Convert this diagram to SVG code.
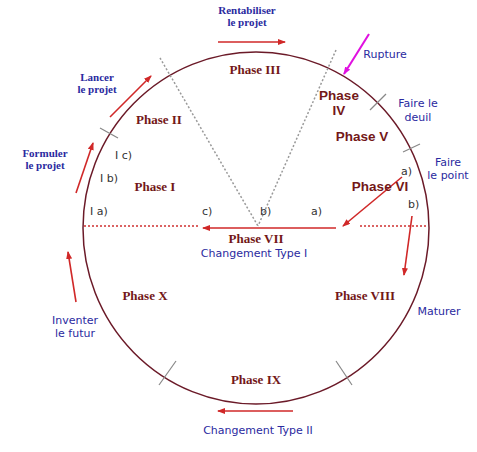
<svg xmlns="http://www.w3.org/2000/svg" width="477" height="452" viewBox="0 0 477 452">
<style>
.ph{font-family:"Liberation Serif",serif;font-weight:bold;font-size:13px;fill:#731818;text-anchor:middle}
.phs{font-family:"Liberation Sans",sans-serif;font-weight:bold;font-size:13.5px;fill:#731818;text-anchor:middle}
.bl{font-family:"DejaVu Sans","Liberation Sans",sans-serif;font-size:11px;fill:#2a2aa0;text-anchor:middle}
.bs{font-family:"Liberation Serif",serif;font-weight:bold;font-size:11px;fill:#2a2aa0;text-anchor:middle}
.lb{font-family:"DejaVu Sans","Liberation Sans",sans-serif;font-size:11px;fill:#333}
.ra{stroke:#d02828;stroke-width:1.6;fill:none;marker-end:url(#ah)}
.tk{stroke:#888;stroke-width:1.2}
.dot{stroke:#999;stroke-width:1.5;stroke-dasharray:2 2;fill:none}
.rdot{stroke:#d03030;stroke-width:1.3;stroke-dasharray:2 2;fill:none}
</style>
<defs>
<marker id="ah" markerWidth="8" markerHeight="6" refX="7" refY="3" orient="auto" markerUnits="userSpaceOnUse">
<path d="M0,0 L8,3 L0,6 z" fill="#d02828"/>
</marker>
<marker id="mh" markerWidth="8" markerHeight="6" refX="7" refY="3" orient="auto" markerUnits="userSpaceOnUse">
<path d="M0,0 L8,3 L0,6 z" fill="#e010e0"/>
</marker>
</defs>
<rect width="477" height="452" fill="#fff"/>
<g id="cycle">
<ellipse cx="256" cy="228" rx="173" ry="176" fill="none" stroke="#6b1a28" stroke-width="1.5"/>
</g>
<g id="connectors">
<line class="dot" x1="160" y1="58" x2="258" y2="226"/>
<line class="dot" x1="336" y1="50" x2="258" y2="226"/>
<line class="rdot" x1="84" y1="226" x2="200" y2="226"/>
<line class="rdot" x1="360" y1="226" x2="428" y2="226"/>
<line class="ra" x1="336" y1="228" x2="203" y2="228"/>
<line class="ra" x1="402" y1="177" x2="343" y2="226"/>
<line class="ra" x1="412" y1="216" x2="404" y2="275"/>
<line class="tk" x1="100" y1="128" x2="118" y2="138"/>
<line class="tk" x1="370" y1="110" x2="386" y2="94"/>
<line class="tk" x1="403" y1="152" x2="420" y2="144"/>
<line class="tk" x1="159" y1="385" x2="176" y2="361"/>
<line class="tk" x1="336" y1="361" x2="352" y2="385"/>
<line x1="369" y1="34" x2="344" y2="74" stroke="#e010e0" stroke-width="2" marker-end="url(#mh)"/>
<line class="ra" x1="218" y1="42" x2="285" y2="42"/>
<line class="ra" x1="110" y1="117" x2="151" y2="76"/>
<line class="ra" x1="76" y1="193" x2="93" y2="143"/>
<line class="ra" x1="76" y1="302" x2="68" y2="252"/>
<line class="ra" x1="293" y1="411" x2="218" y2="411"/>
</g>
<g id="phase1">
<text class="ph" x="155" y="191">Phase I</text>
<text class="lb" x="90" y="215">I a)</text>
<text class="lb" x="100" y="182">I b)</text>
<text class="lb" x="115" y="159">I c)</text>
</g>
<g id="phase2"><text class="ph" x="159" y="124">Phase II</text></g>
<g id="phase3"><text class="ph" x="255" y="74">Phase III</text></g>
<g id="phase4"><text class="phs" x="339" y="100">Phase</text><text class="phs" x="339" y="115">IV</text></g>
<g id="phase5"><text class="phs" x="362" y="141">Phase V</text></g>
<g id="phase6"><text class="phs" x="380" y="191">Phase VI</text>
<text class="lb" x="401" y="175">a)</text>
<text class="lb" x="408" y="208">b)</text></g>
<g id="phase7"><text class="ph" x="256" y="243">Phase VII</text>
<text class="bl" x="254" y="257">Changement Type I</text>
<text class="lb" x="202" y="215">c)</text>
<text class="lb" x="260" y="215">b)</text>
<text class="lb" x="311" y="215">a)</text></g>
<g id="phase8"><text class="ph" x="365" y="300">Phase VIII</text></g>
<g id="phase9"><text class="ph" x="256" y="384">Phase IX</text></g>
<g id="phase10"><text class="ph" x="145" y="300">Phase X</text></g>
<g id="labels">
<text class="bs" x="247" y="14">Rentabiliser</text>
<text class="bs" x="247" y="26">le projet</text>
<text class="bs" x="97" y="81">Lancer</text>
<text class="bs" x="97" y="93">le projet</text>
<text class="bs" x="45" y="157">Formuler</text>
<text class="bs" x="45" y="169">le projet</text>
<text class="bl" x="385" y="58">Rupture</text>
<text class="bl" x="418" y="107">Faire le</text>
<text class="bl" x="418" y="121">deuil</text>
<text class="bl" x="448" y="166">Faire</text>
<text class="bl" x="448" y="179">le point</text>
<text class="bl" x="439" y="315">Maturer</text>
<text class="bl" x="75" y="324">Inventer</text>
<text class="bl" x="75" y="337">le futur</text>
<text class="bl" x="258" y="434">Changement Type II</text>
</g>
</svg>
